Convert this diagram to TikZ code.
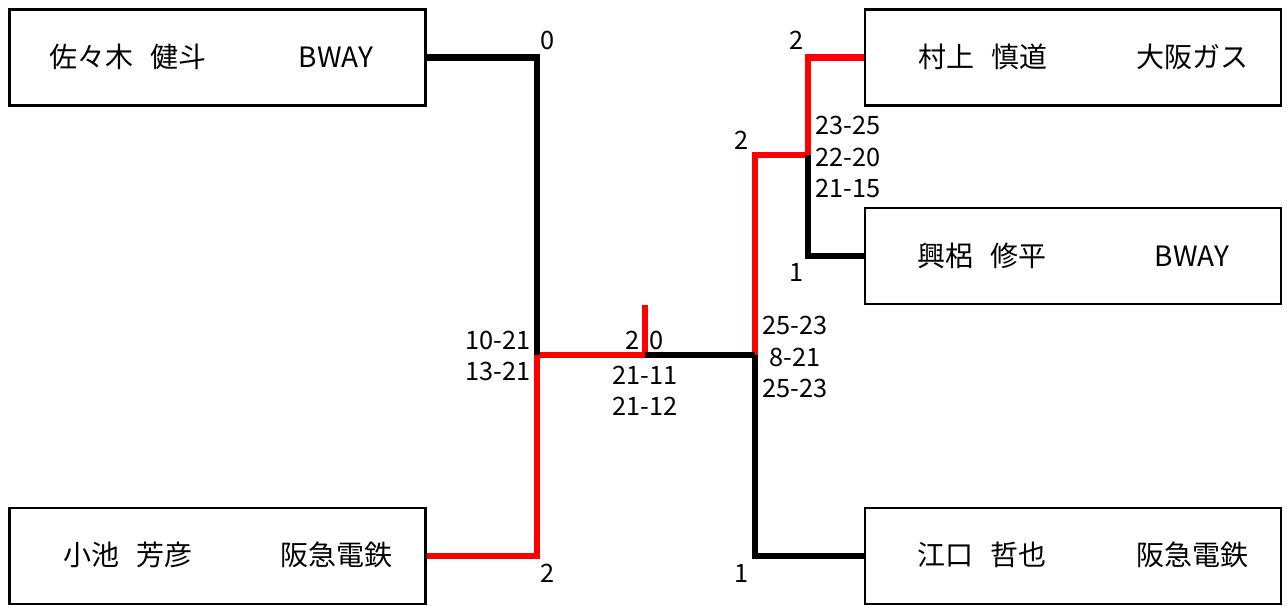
\documentclass[tikz,border=0pt]{standalone}
\usepackage{fontspec}
\setmainfont{Noto Sans CJK JP}
\newcommand{\namegap}{\hspace{0.6em}}

\begin{document}
\begin{tikzpicture}[x=0.75pt, y=-0.75pt,
    entry/.style={draw, rectangle, line width=2.2pt, minimum width=312pt, minimum height=72pt, inner sep=0pt},
    nametext/.style={font=\fontsize{21}{25}\selectfont, inner sep=0pt},
    score/.style={font=\fontsize{19}{23.6}\selectfont, inner sep=0pt},
    win/.style={red, line width=4.6pt},
    lose/.style={black, line width=4.6pt}]
    \useasboundingbox (0,0) rectangle (1287,606);

    % players
    \node[entry](sasaki) at (217.5,57.5){};
    \node[entry](koike) at (217.5,556){};
    \node[entry](murakami) at (1073,57.5){};
    \node[entry](okoro) at (1073,256){};
    \node[entry](eguchi) at (1073,556){};

    \node[nametext](sasakiname) at (128,57){佐々木\namegap 健斗};
    \node[nametext](sasakiteam) at (336,57){BWAY};
    \node[nametext](koikename) at (128,555){小池\namegap 芳彦};
    \node[nametext](koiketeam) at (336,555){阪急電鉄};
    \node[nametext](murakaminame) at (983,57){村上\namegap 慎道};
    \node[nametext](murakamiteam) at (1192,57){大阪ガス};
    \node[nametext](okoroname) at (982,256){興梠\namegap 修平};
    \node[nametext](okoroteam) at (1192,256){BWAY};
    \node[nametext](eguchiname) at (982,555){江口\namegap 哲也};
    \node[nametext](eguchiteam) at (1192,555){阪急電鉄};

    % junctions
    \coordinate (semil) at (537,355);
    \coordinate (final) at (645,355);
    \coordinate (flag) at (645,305);
    \coordinate (semir) at (755,355);
    \coordinate (qf) at (808,155);

    % winners
    \draw[win] (koike.east) -| (semil);
    \draw[win] (semil) -- (final);
    \draw[win] (final) -- (flag);
    \draw[win] (semir) |- (qf);
    \draw[win] (murakami.west) -| (qf);
    % losers
    \draw[lose] (sasaki.east) -| (semil);
    \draw[lose] (final) -- (semir);
    \draw[lose] (eguchi.west) -| (semir);
    \draw[lose] (okoro.west) -| (qf);

    % games and scores
    \node[score](g1) at (548,40){0};
    \node[score](g2) at (548,573){2};
    \node[score, align=right, anchor=east](s1) at (531,356){10-21\\13-21};
    \node[score](g3) at (633,340){2};
    \node[score](g4) at (657,340){0};
    \node[score, align=center](s2) at (645,391){21-11\\21-12};
    \node[score](g5) at (742,140){2};
    \node[score](g6) at (742,573){1};
    \node[score, align=center](s3) at (795,357){25-23\\8-21\\25-23};
    \node[score](g7) at (797,40){2};
    \node[score](g8) at (797,272){1};
    \node[score, align=left, anchor=west](s4) at (815,157){23-25\\22-20\\21-15};
\end{tikzpicture}
\end{document}
